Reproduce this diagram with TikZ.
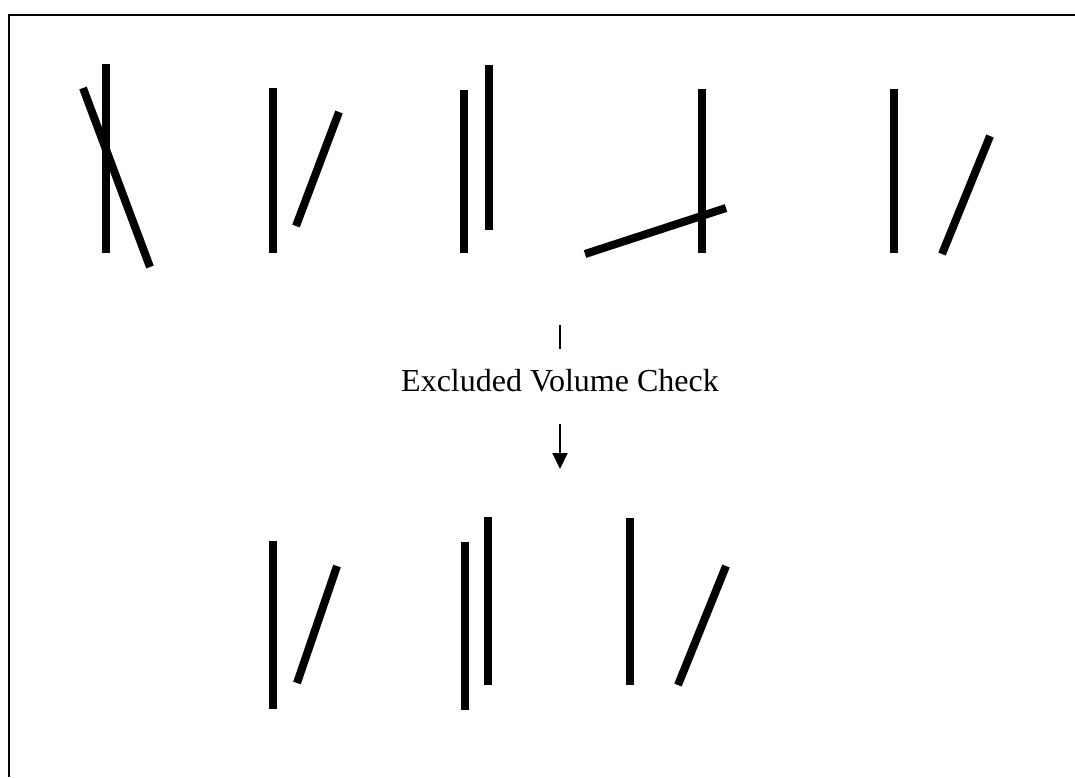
\documentclass[tikz,border=0pt]{standalone}
\usepackage{fontspec}
\setmainfont{Liberation Serif}
\usetikzlibrary{arrows.meta}
\tikzset{
  rod/.style={line width=4pt},
  frm/.style={line width=1pt},
  flow/.style={line width=1pt}}

\begin{document}
\begin{tikzpicture}[x=0.5pt, y=-0.5pt, font=\fontsize{16}{19}\selectfont]
\useasboundingbox (0,0) rectangle (1075,777);
\draw[frm] (9,777) -- (9,15) -- (1075,15);
% all pairs before the check
\foreach \xa/\ya/\xb/\yb in {106/64/106/253, 83/88/150/267,
    273/88/273/253, 296/226/339/112,
    464/90/464/253, 489/65/489/230,
    702/89/702/253, 585/254/726/208,
    894/89/894/253, 942/254/990/136}
  \draw[rod] (\xa,\ya) -- (\xb,\yb);
% check step
\node (chk) at (560,381) {Excluded Volume Check};
\coordinate (tk) at (560,325);
\coordinate (dn) at (560,469);
\draw[flow, shorten >=6.7pt] (tk) -- (chk.north);
\draw[flow, -{Triangle[width=7.5pt,length=8pt]}, shorten <=12.5pt] (chk.south) -- (dn);
% pairs that are kept
\foreach \xa/\ya/\xb/\yb in {273/541/273/709, 297/683/337/566,
    465/542/465/710, 488/517/488/685,
    630/518/630/685, 678/685/726/566}
  \draw[rod] (\xa,\ya) -- (\xb,\yb);
\end{tikzpicture}
\end{document}
